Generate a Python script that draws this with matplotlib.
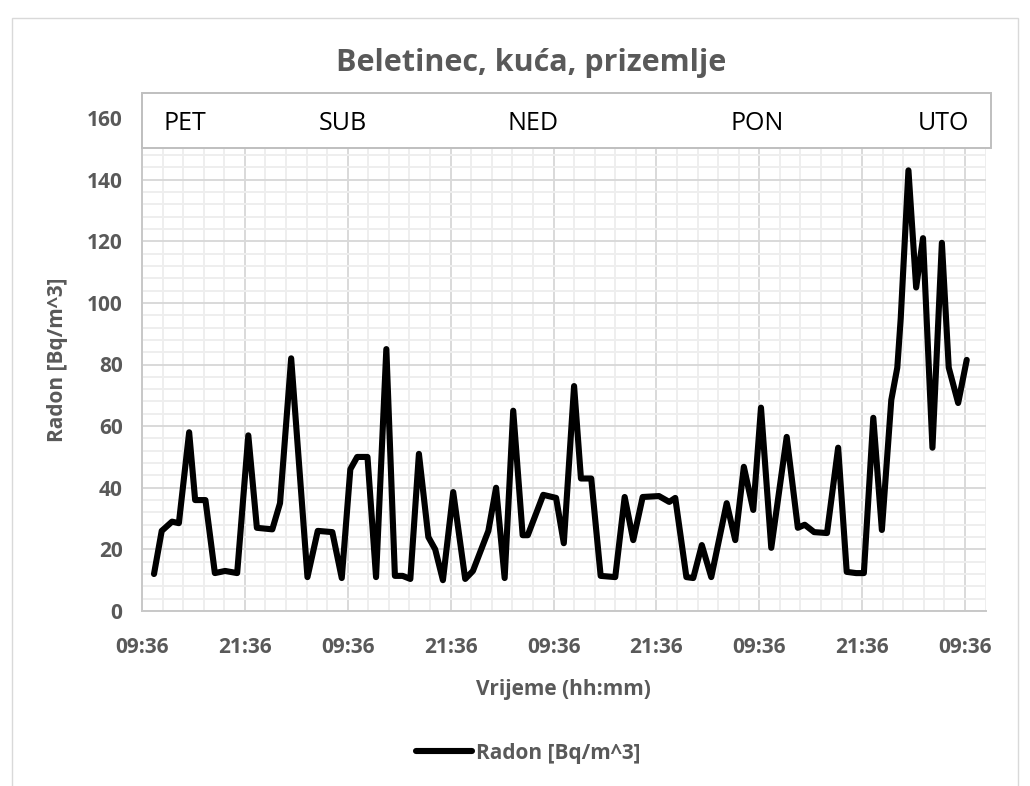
import matplotlib
matplotlib.use('Agg')
import matplotlib.pyplot as plt
from matplotlib.ticker import MultipleLocator, FuncFormatter
from matplotlib.patches import Rectangle

# hours since Friday 09:36
hours = [1.4, 2.3, 3.5, 4.3, 5.5, 6.2, 7.4, 8.5, 9.7, 11.1, 12.4, 13.4, 15.2, 16.1, 17.4,
         19.3, 20.5, 22.2, 23.3, 24.3, 25.1, 26.3, 27.3, 28.5, 29.5, 30.4, 31.3, 32.3, 33.4,
         34.2, 35.1, 36.3, 37.7, 38.6, 40.4, 41.3, 42.3, 43.3, 44.4, 45.0, 46.8, 48.3, 49.2,
         50.4, 51.2, 52.4, 53.5, 55.2, 56.3, 57.3, 58.4, 60.3, 61.5, 62.2, 63.5, 64.3, 65.3,
         66.4, 68.2, 69.2, 70.2, 71.3, 72.2, 73.4, 75.2, 76.5, 77.3, 78.4, 79.9, 81.2, 82.2,
         83.3, 84.2, 85.3, 86.3, 87.4, 88.1, 88.5, 89.4, 90.3, 91.1, 92.2, 93.3, 94.1, 95.2, 96.2]
radon = [12, 26, 29, 28.5, 58, 36, 36, 12.3, 13, 12.3, 57, 27, 26.5, 35, 82,
         11, 26, 25.6, 10.7, 46, 50, 50, 11, 85, 11.4, 11.4, 10.4, 51, 24,
         20, 10, 38.6, 10.4, 13, 26, 40, 10.7, 65, 24.6, 24.6, 37.7, 36.7, 22,
         73, 43, 43, 11.4, 11, 37, 23, 37, 37.3, 35.4, 36.7, 11, 10.7, 21.4,
         11, 35, 23, 46.8, 32.8, 66, 20.5, 56.5, 27, 28, 25.6, 25.3, 53, 12.7,
         12.3, 12.3, 62.7, 26.3, 68.5, 79, 95, 143, 105, 121, 53, 119.5, 79, 67.5, 81.5]
days = ['PET', 'SUB', 'NED', 'PON', 'UTO']
day_x = [185, 343, 533, 757, 943]   # pixel centres in the header box

start_clock = 9.6  # 09:36
W, H = 1030, 786
gray = '#595959'
font = 'Open Sans'


def hhmm(x, _):
    mins = int(round((start_clock + x) * 60)) % 1440
    h, m = divmod(mins, 60)
    return f'{h:02d}:{m:02d}'


plt.rcParams['font.family'] = [font, 'DejaVu Sans']
fig = plt.figure(figsize=(W / 100, H / 100), dpi=100)
ax = fig.add_axes([142 / W, 1 - 611 / H, 843.6 / W, 493 / H])

ax.plot(hours, radon, color='black', lw=4.4, solid_joinstyle='round',
        solid_capstyle='round', label='Radon [Bq/m^3]', zorder=3)

ax.set_xlim(0, 98.4)
ax.set_ylim(0, 160)
ax.xaxis.set_major_locator(MultipleLocator(12))
ax.xaxis.set_minor_locator(MultipleLocator(2.4))
ax.yaxis.set_major_locator(MultipleLocator(20))
ax.yaxis.set_minor_locator(MultipleLocator(4))
ax.xaxis.set_major_formatter(FuncFormatter(hhmm))
ax.grid(which='major', color='#d9d9d9', lw=1.4, zorder=1)
ax.grid(which='minor', color='#eeeeee', lw=1.4, zorder=0)
ax.set_axisbelow(True)
ax.tick_params(which='both', length=0)
ax.tick_params(axis='x', pad=19, labelsize=15, labelcolor=gray)
ax.tick_params(axis='y', pad=14, labelsize=15, labelcolor=gray)
for lab in ax.get_xticklabels() + ax.get_yticklabels():
    lab.set_fontweight('bold')
for s in ['top', 'right']:
    ax.spines[s].set_visible(False)
for s in ['left', 'bottom']:
    ax.spines[s].set_color('#c8c8c8')
    ax.spines[s].set_linewidth(1.4)

ax.set_xlabel('Vrijeme (hh:mm)', fontsize=15, fontweight='bold', color=gray)
ax.xaxis.set_label_coords(0.5, -0.137)
ax.set_ylabel('Radon [Bq/m^3]', fontsize=15, fontweight='bold', color=gray, va='center')
ax.yaxis.set_label_coords(-0.0996, 0.51)

fig.suptitle('Beletinec, kuća, prizemlje', x=531 / W, y=1 - 63 / H, va='center',
             fontsize=22, fontweight='bold', color=gray)

# outer chart border
fig.add_artist(Rectangle((12 / W, -0.1), 1006 / W, 1.1 - 18 / H, transform=fig.transFigure,
                         fill=False, edgecolor='#d9d9d9', lw=1.0, zorder=0))
# day header box
fig.add_artist(Rectangle((142 / W, 1 - 148 / H), 849 / W, 55 / H, transform=fig.transFigure,
                         facecolor='white', edgecolor='#bfbfbf', lw=1.4, zorder=5))
for d, px in zip(days, day_x):
    fig.text(px / W, 1 - 124 / H, d, ha='center', va='center', fontsize=18,
             color='black', zorder=6)

fig.legend(loc='center', bbox_to_anchor=(528 / W, 1 - 753 / H), frameon=False,
           handlelength=2.7, handletextpad=0.2, labelcolor=gray,
           prop={'family': font, 'weight': 'bold', 'size': 15})

fig.savefig('out.png', dpi=100)
